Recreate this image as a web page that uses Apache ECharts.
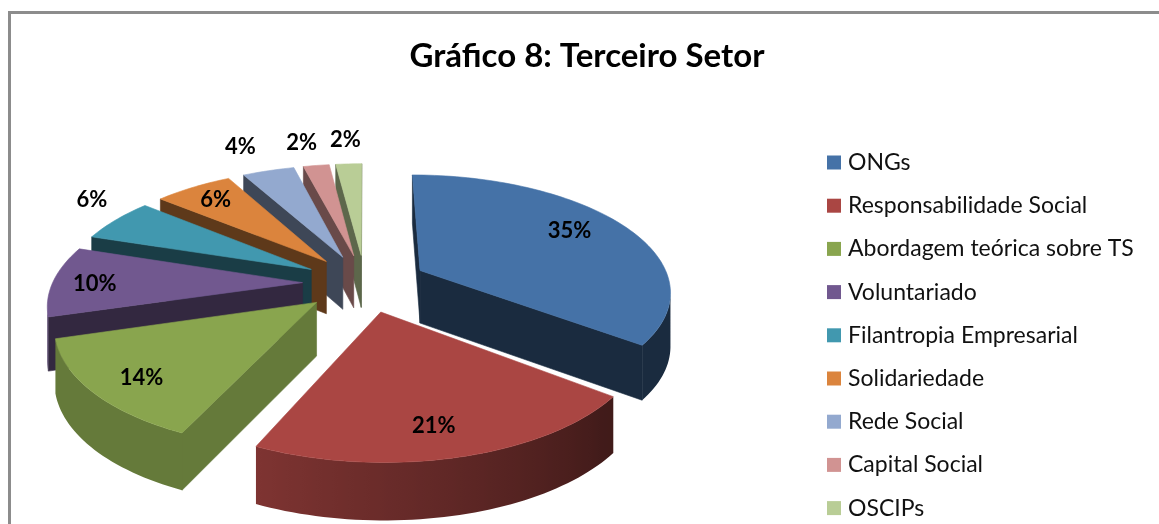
<!DOCTYPE html>
<html>
<head>
<meta charset="utf-8">
<style>html,body{margin:0;padding:0;background:#fff}#c{width:1159px;height:524px}</style>
<script src="https://cdn.jsdelivr.net/npm/echarts@6/dist/echarts.min.js"></script>
</head>
<body>
<div id="c"></div>
<script>
var categories = ['ONGs','Responsabilidade Social','Abordagem teórica sobre TS','Voluntariado','Filantropia Empresarial','Solidariedade','Rede Social','Capital Social','OSCIPs'];
var values = [35.4,21.4,13.6,9.6,6,6,4,2,2];
var colors = ['#4572A7','#AA4643','#89A54E','#71588F','#4198AF','#DB843D','#93A9CF','#D19392','#B9CD96'];
var wallShades = [0.38,0.4,0.74,0.45,0.4,0.43,0.42,0.5,0.5];
var labelRadius = [0.762,0.805,0.82,0.83,1.236,0.814,1.34,1.31,1.32];
var labelShift = [-3.7,2,-2,-1.2,5.6,0,-1.5,-1.1,0];
var drawOrder = [8,7,6,5,4,3,0,2,1];

var CX=365, CY=283, A=250, B=115, K=0.164, EXPLODE=0.25;
var total = values.reduce(function(a,b){return a+b;},0);
var starts=[], acc=0;
values.forEach(function(v){starts.push(acc/total*360); acc+=v;});

function rad(d){return d*Math.PI/180;}
function project(u,v){var s=1/(1-K*v);return {x:CX+A*u*s,y:CY+B*v*s,v:v};}
function lower(p){return [p.x,p.y+53+4*p.v];}
function shade(hex,f){
  var n=parseInt(hex.slice(1),16);
  return 'rgb('+Math.round((n>>16&255)*f)+','+Math.round((n>>8&255)*f)+','+Math.round((n&255)*f)+')';
}
function rimShade(t){
  if(t<130) return 0.38;
  if(t<204) return 0.38+(t-130)/74*0.36;
  return 0.74;
}
function poly(pts,fill,z2,noStroke){
  return {type:'polygon',shape:{points:pts},z2:z2,silent:true,
    style:noStroke?{fill:fill}:{fill:fill,stroke:fill,lineWidth:0.6}};
}
function sliceRender(i){
  return function(){
    var a0=starts[i], a1=a0+values[i]/total*360, m=(a0+a1)/2;
    var au=EXPLODE*Math.sin(rad(m)), av=-EXPLODE*Math.cos(rad(m));
    var apex=project(au,av), ring=[], n=Math.max(6,Math.ceil((a1-a0)/1.5));
    for(var j=0;j<=n;j++){
      var t=a0+(a1-a0)*j/n;
      var p=project(au+Math.sin(rad(t)),av-Math.cos(rad(t)));
      p.t=t; ring.push(p);
    }
    var S=ring[0],E=ring[n],kids=[],c=colors[i];
    function quad(p,q,f){kids.push(poly([[p.x,p.y],[q.x,q.y],lower(q),lower(p)],f,1));}
    if(S.x<apex.x) quad(apex,S,shade(c,wallShades[i]));
    if(apex.x<E.x) quad(E,apex,shade(c,wallShades[i]));
    var run=[];
    for(var r=0;r<=n;r++){
      var vis=(r<n&&ring[r+1].x<ring[r].x)||(r>0&&ring[r].x<ring[r-1].x);
      if(vis) run.push(ring[r]);
    }
    if(run.length>1){
      var x0=run[0].x,x1=run[run.length-1].x,span=Math.max(1,x0-x1);
      var stops=run.map(function(p){return {offset:Math.min(1,(x0-p.x)/span),color:shade(c,rimShade(p.t))};});
      var grad=new echarts.graphic.LinearGradient(x0,0,x1,0,stops,true);
      var pts=run.map(function(p){return [p.x,p.y];}).concat(run.slice().reverse().map(lower));
      kids.push(poly(pts,grad,1,true));
    }
    var top=[[apex.x,apex.y]].concat(ring.map(function(p){return [p.x,p.y];}));
    kids.push(poly(top,c,2));
    var la=m+labelShift[i], lr=labelRadius[i];
    var lp=project(au+lr*Math.sin(rad(la)),av-lr*Math.cos(rad(la)));
    kids.push({type:'text',z2:100,silent:true,style:{
      x:lp.x,y:lp.y,text:Math.round(values[i])+'%',align:'center',verticalAlign:'middle',
      fill:'#000',font:'bold 22px Lato'}});
    return {type:'group',children:kids};
  };
}
var series = drawOrder.map(function(i){
  return {type:'custom',name:categories[i],coordinateSystem:'none',silent:true,animation:false,
    itemStyle:{color:colors[i]},data:[[values[i]]],renderItem:sliceRender(i)};
});
var chart = echarts.init(document.getElementById('c'),null,{renderer:'canvas'});
chart.setOption({
  animation:false,
  backgroundColor:'#fff',
  title:{text:'Gráfico 8: Terceiro Setor',left:582,top:35,textAlign:'center',
    textStyle:{fontFamily:'Lato',fontWeight:'bold',fontSize:33,color:'#000'}},
  legend:{data:categories,orient:'vertical',left:827,top:151,height:600,padding:0,
    itemWidth:14,itemHeight:14,itemGap:20.2,icon:'rect',selectedMode:false,
    textStyle:{fontFamily:'Lato',fontSize:23,color:'#111',height:20,lineHeight:20,padding:[0,0,0,2]}},
  graphic:[
    {type:'line',silent:true,shape:{x1:9.5,y1:11,x2:9.5,y2:524},style:{stroke:'#8c8c8c',lineWidth:3}},
    {type:'line',silent:true,shape:{x1:8,y1:12.5,x2:1159,y2:12.5},style:{stroke:'#8c8c8c',lineWidth:3}}
  ],
  series:series
});
</script>
</body>
</html>
